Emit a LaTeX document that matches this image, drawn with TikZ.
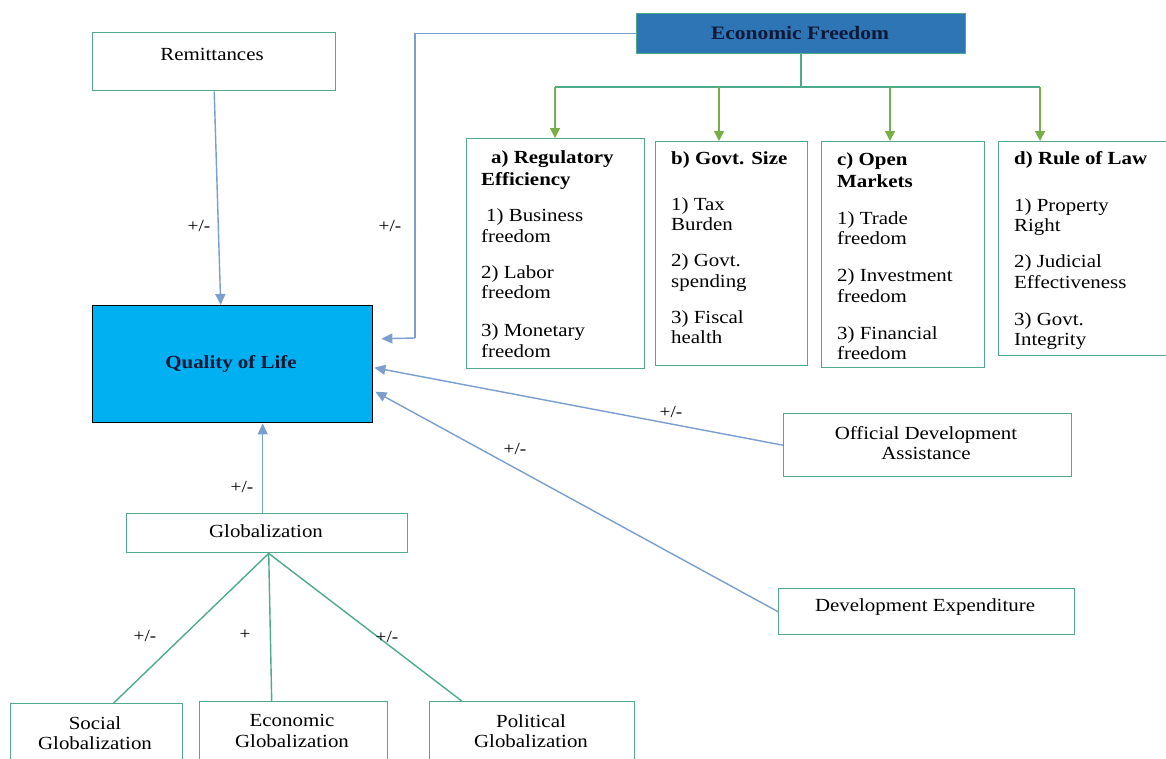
\documentclass[tikz,border=0pt]{standalone}
\usepackage{fontspec}
\setmainfont{Liberation Serif}[FakeStretch=1.13]
\usetikzlibrary{arrows.meta,calc}
\definecolor{boxline}{RGB}{78,170,138}
\definecolor{bluearr}{RGB}{122,158,205}
\definecolor{greenarr}{RGB}{118,175,70}
\definecolor{qolfill}{RGB}{0,176,240}
\definecolor{effill}{RGB}{46,117,182}
\definecolor{eftext}{RGB}{15,25,55}
\begin{document}
\begin{tikzpicture}[x=1pt,y=-1pt,
  txt/.style={font=\fontsize{18.5}{20.5}\selectfont, inner sep=0pt},
  lbl/.style={font=\fontsize{17}{19}\selectfont, inner sep=0pt},
  frame/.style={draw=boxline, line width=1.4pt, fill=white, inner sep=0pt, anchor=north west},
  bluea/.style={draw=bluearr, line width=1.4pt, -{Triangle[length=11pt,width=10pt]}},
  bluel/.style={draw=bluearr, line width=1.4pt},
  greena/.style={draw=greenarr, line width=1.4pt, -{Triangle[length=10pt,width=10pt]}},
  treel/.style={draw=boxline, line width=1.4pt}]
\clip (0,0) rectangle (1166,758);
\fill[white] (0,0) rectangle (1166,758);

% boxes
\node[frame, minimum width=243pt, minimum height=58pt] (rem) at (92,32) {};
\node[txt] (remt) at (212,54) {Remittances};

\node[draw=boxline, line width=1.2pt, fill=effill, inner sep=0pt, anchor=north west,
      minimum width=329pt, minimum height=40pt] (ef) at (636,13) {};
\node[txt, font=\fontsize{19}{21}\selectfont\bfseries, text=eftext] (eft) at (800,33) {Economic Freedom};

\node[draw=black, line width=1.4pt, fill=qolfill, inner sep=0pt, anchor=north west,
      minimum width=280pt, minimum height=117pt] (qol) at (92,305) {};
\node[txt, font=\fontsize{18.5}{20.5}\selectfont\bfseries, text=eftext] (qolt) at (231,364) {Quality of Life};

\node[frame, minimum width=178pt, minimum height=230pt] (ba) at (466,138) {};
\node[frame, minimum width=152pt, minimum height=224pt] (bb) at (655,141) {};
\node[frame, minimum width=163pt, minimum height=226pt] (bc) at (821,141) {};
\node[frame, minimum width=172pt, minimum height=214pt] (bd) at (998,141) {};

\node[txt, align=left, anchor=north west] (bat) at (481,150)
 {\hspace{10pt}\textbf{a) Regulatory}\\[1.5pt]\textbf{Efficiency}\\[16pt]\hspace{5pt}1) Business\\freedom\\[15.5pt]2) Labor\\freedom\\[17.5pt]3) Monetary\\freedom};
\node[txt, align=left, anchor=north west] (bbt) at (671,151)
 {\textbf{b) Govt. Size}\\[25.5pt]1) Tax\\Burden\\[15.5pt]2) Govt.\\spending\\[15.5pt]3) Fiscal\\health};
\node[txt, align=left, anchor=north west] (bct) at (837,152)
 {\textbf{c) Open}\\[1.5pt]\textbf{Markets}\\[16.5pt]1) Trade\\freedom\\[16.5pt]2) Investment\\freedom\\[16.5pt]3) Financial\\freedom};
\node[txt, align=left, anchor=north west] (bdt) at (1014,151)
 {\textbf{d) Rule of Law}\\[26.5pt]1) Property\\Right\\[15.5pt]2) Judicial\\Effectiveness\\[16.5pt]3) Govt.\\Integrity};

\node[frame, minimum width=288pt, minimum height=63pt] (oda) at (783,413) {};
\node[txt, align=center] (odat) at (926,443) {Official Development\\Assistance};
\node[frame, minimum width=296pt, minimum height=46pt] (dev) at (778,588) {};
\node[txt] (devt) at (925,607) {Development Expenditure};

\node[frame, minimum width=281pt, minimum height=39pt] (glob) at (126,513) {};
\node[txt] (globt) at (266,531) {Globalization};

\node[frame, minimum width=172pt, minimum height=70pt] (soc) at (10,703) {};
\node[txt, align=center] (soct) at (95,733) {Social\\Globalization};
\node[frame, minimum width=188pt, minimum height=72pt] (eco) at (199,701) {};
\node[txt, align=center] (ecot) at (292,731) {Economic\\Globalization};
\node[frame, minimum width=205pt, minimum height=72pt] (pol) at (429,701) {};
\node[txt, align=center] (polt) at (531,731) {Political\\Globalization};

% connectors
\draw[bluea] (rem.south) -- ([xshift=-12pt]qol.north);
\coordinate (efc) at (415,338);
\draw[bluel] (ef.west) -| (efc);
\draw[bluea] (efc) -- ([xshift=8pt,yshift=25.5pt]qol.east);
\draw[bluea] (oda.west) -- ([xshift=1pt,yshift=-3.5pt]qol.east);
\draw[bluea] (dev.west) -- ([xshift=2pt,yshift=-27.5pt]qol.east);
\draw[bluea] ([xshift=-4.5pt]glob.north) -- ([xshift=30pt]qol.south);

\coordinate (ja) at (555,87);
\coordinate (jb) at (719,87);
\coordinate (jc) at (890,87);
\coordinate (jd) at (1040,87);
\draw[treel] (ef.south) -- (ef.south |- ja);
\draw[treel] (ja) -- (jd);
\draw[greena] (ja) -- (ja |- ba.north);
\draw[greena] (jb) -- (jb |- bb.north);
\draw[greena] (jc) -- (jc |- bc.north);
\draw[greena] (jd) -- (jd |- bd.north);

\draw[treel] ([xshift=1.5pt]glob.south) -- ([xshift=17pt]soc.north);
\draw[treel] ([xshift=1.5pt]glob.south) -- ([xshift=-22pt]eco.north);
\draw[treel] ([xshift=1.5pt]glob.south) -- ([xshift=-70.5pt]pol.north);

% labels
\node[lbl] (l1) at (199,226) {+/-};
\node[lbl] (l2) at (390,226) {+/-};
\node[lbl] (l3) at (671,412) {+/-};
\node[lbl] (l4) at (515,449) {+/-};
\node[lbl] (l5) at (242,487) {+/-};
\node[lbl] (l6) at (145,636) {+/-};
\node[lbl] (l7) at (245,635) {+};
\node[lbl] (l8) at (387,637) {+/-};
\end{tikzpicture}
\end{document}
